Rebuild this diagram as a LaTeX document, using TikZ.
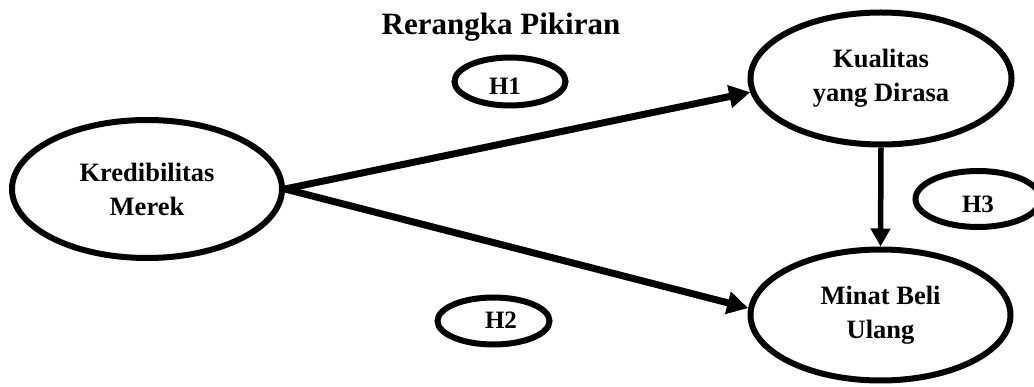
\documentclass[tikz,border=0pt]{standalone}
\usepackage{fontspec}
\setmainfont{Liberation Serif}
\usetikzlibrary{shapes.geometric,arrows.meta}

\tikzset{
  construct/.style={ellipse, draw, line width=6pt, inner sep=0pt, align=center,
    font=\fontsize{26.5}{34}\selectfont\bfseries},
  hypo/.style={ellipse, draw, line width=6pt, inner sep=0pt},
  hlabel/.style={inner sep=0pt, font=\fontsize{25}{28}\selectfont\bfseries},
  path arrow/.style={line width=7pt, -{Triangle[length=21pt,width=22pt]}},
  down arrow/.style={line width=5.5pt, -{Triangle[length=18pt,width=19pt]}},
}

\begin{document}
\begin{tikzpicture}[x=1pt,y=-1pt]
  \useasboundingbox (0,0) rectangle (1034,387);

  % heading
  \node (title) at (501,27) {\fontsize{31}{36}\selectfont\bfseries Rerangka Pikiran};

  % constructs
  \node[construct, minimum width=270pt, minimum height=138pt] (kred) at (147,189)
    {Kredibilitas\\Merek};
  \node[construct, minimum width=261pt, minimum height=132pt] (kual) at (881,78.5)
    {Kualitas\\yang Dirasa};
  \node[construct, minimum width=260pt, minimum height=131pt] (minat) at (880.5,315)
    {Minat Beli\\Ulang};

  % hypothesis rings and their labels
  \node[hypo, minimum width=111pt, minimum height=48pt] (h1) at (510,81.5) {};
  \node[hlabel] (h1t) at (505,86) {H1};
  \node[hypo, minimum width=112pt, minimum height=47pt] (h2) at (493.5,321) {};
  \node[hlabel] (h2t) at (501,320) {H2};
  \node[hypo, minimum width=125pt, minimum height=56pt] (h3) at (978,199) {};
  \node[hlabel] (h3t) at (978,204) {H3};

  % paths
  \draw[path arrow] (kred.east) -- (kual.186);
  \draw[path arrow] (kred.east) -- (minat.177);
  \draw[down arrow] (kual.south) -- (minat.north);
\end{tikzpicture}
\end{document}
